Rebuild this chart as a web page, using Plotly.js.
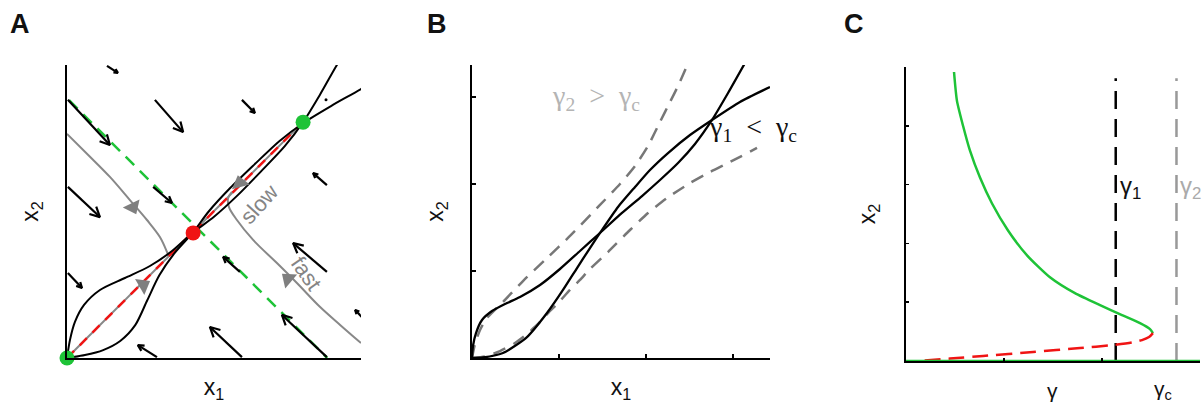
<!DOCTYPE html>
<html>
<head>
<meta charset="utf-8">
<script src="https://cdn.plot.ly/plotly-3.0.1.min.js"></script>
<style>html,body{margin:0;padding:0;background:#fff;}#chart{width:1203px;height:408px;}</style>
</head>
<body>
<div id="chart"></div>
<script>
// ---------- Panel A : phase plane ----------
const A_n1_x = [0, 0.010, 0.027, 0.058, 0.112, 0.197, 0.282, 0.357, 0.428, 0.50, 0.58, 0.66, 0.74, 0.803, 0.86, 0.918, 0.95];
const A_n1_y = [0, 0.061, 0.123, 0.181, 0.232, 0.273, 0.314, 0.365, 0.428, 0.482, 0.555, 0.637, 0.722, 0.805, 0.898, 1.0, 1.05];
const A_n2_x = [0, 0.061, 0.123, 0.181, 0.232, 0.273, 0.314, 0.365, 0.428, 0.482, 0.555, 0.637, 0.722, 0.805, 0.898, 1.0, 1.05];
const A_n2_y = [0, 0.010, 0.027, 0.058, 0.112, 0.197, 0.282, 0.357, 0.428, 0.50, 0.58, 0.66, 0.74, 0.803, 0.86, 0.918, 0.95];
const A_diag_x = [0, 0.803];
const A_diag_y = [0, 0.805];
const A_sep_x = [0.007, 0.885];
const A_sep_y = [0.88, 0.0];
const A_trajL_x = [0, 0.073, 0.146, 0.214, 0.272, 0.316, 0.340, 0.346];
const A_trajL_y = [0.765, 0.692, 0.618, 0.539, 0.471, 0.413, 0.362, 0.345];
const A_trajR_x = [1.0, 0.929, 0.861, 0.782, 0.714, 0.633, 0.578, 0.551, 0.548, 0.561];
const A_trajR_y = [0.051, 0.113, 0.174, 0.256, 0.324, 0.403, 0.471, 0.515, 0.546, 0.567];
const A_tri_x = [0.224, 0.752, 0.259, 0.588];
const A_tri_y = [0.515, 0.270, 0.249, 0.597];
const A_tri_sym = ['triangle-down', 'triangle-left', 'triangle-right', 'triangle-up'];
const A_tri_ang = [-25, 40, -30, -15];
const A_fp_x = [0, 0.429, 0.803];
const A_fp_y = [0, 0.427, 0.805];
const A_fp_col = ['#1ec337', '#f01414', '#1ec337'];
const A_dot_x = [0.881];
const A_dot_y = [0.881];
// quiver arrows: tails (x0,y0) -> heads (x1,y1)
const A_q_x0 = [0.136, 0.299, 0.595, 0.003, 0.003, 0.293, 0.884, 0.884, 1.003, 0.595, 0.306, 0.588, 0.003, 0.884];
const A_q_y0 = [0.997, 0.881, 0.881, 0.881, 0.584, 0.584, 0.590, 0.294, 0.140, 0.003, 0.003, 0.294, 0.290, 0.003];
const A_q_x1 = [0.173, 0.395, 0.639, 0.146, 0.112, 0.357, 0.837, 0.769, 0.980, 0.486, 0.241, 0.531, 0.051, 0.731];
const A_q_y1 = [0.973, 0.771, 0.836, 0.727, 0.481, 0.529, 0.631, 0.392, 0.164, 0.106, 0.044, 0.345, 0.239, 0.147];

// ---------- Panel B : nullclines for two gammas ----------
const B_n1_x = [0, 0.011, 0.046, 0.115, 0.230, 0.379, 0.552, 0.782, 1.011, 1.241, 1.471, 1.724, 1.954, 2.161, 2.368, 2.563, 2.759, 2.943, 3.138];
const B_n1_y = [0, 0.138, 0.287, 0.437, 0.540, 0.621, 0.701, 0.839, 1.023, 1.230, 1.437, 1.667, 1.862, 2.046, 2.241, 2.460, 2.736, 3.046, 3.391];
const B_n2_x = [0, 0.126, 0.356, 0.632, 0.862, 1.046, 1.207, 1.356, 1.471, 1.678, 1.874, 2.046, 2.253, 2.506, 2.759, 3.080, 3.425];
const B_n2_y = [0, 0.006, 0.057, 0.241, 0.517, 0.782, 1.034, 1.264, 1.437, 1.736, 1.966, 2.161, 2.356, 2.563, 2.736, 2.943, 3.115];
const B_d1_x = [0, 0.034, 0.092, 0.172, 0.356, 0.586, 0.851, 1.138, 1.471, 1.701, 1.874, 2.023, 2.161, 2.276, 2.368, 2.460];
const B_d1_y = [0, 0.161, 0.322, 0.460, 0.644, 0.885, 1.138, 1.414, 1.759, 2.000, 2.207, 2.437, 2.713, 2.943, 3.126, 3.333];
const B_d2_x = [0, 0.149, 0.322, 0.494, 0.632, 0.759, 0.874, 0.989, 1.126, 1.241, 1.356, 1.563, 1.816, 2.023, 2.241, 2.506, 2.736, 2.966, 3.276];
const B_d2_y = [0, 0.017, 0.080, 0.172, 0.276, 0.391, 0.517, 0.632, 0.782, 0.897, 1.023, 1.218, 1.471, 1.667, 1.839, 2.011, 2.138, 2.253, 2.414];

// ---------- Panel C : bifurcation diagram ----------
const C_stable_x = [0.490, 0.520, 0.582, 0.653, 0.755, 0.878, 1.041, 1.235, 1.469, 1.724, 1.980, 2.204, 2.388, 2.490, 2.520];
const C_stable_y = [4.915, 4.424, 4.000, 3.576, 3.119, 2.678, 2.220, 1.797, 1.424, 1.153, 0.949, 0.780, 0.644, 0.542, 0.475];
const C_unst_x = [2.520, 2.480, 2.408, 2.306, 2.112, 1.776, 1.296, 0.786, 0.449, 0.122];
const C_unst_y = [0.475, 0.407, 0.356, 0.314, 0.271, 0.220, 0.153, 0.085, 0.042, 0.0];
const C_zero_x = [0, 3];
const C_zero_y = [0, 0];
const C_g1 = 2.14, C_g2 = 2.76, C_vtop = 4.81;

const GREEN = '#1ec337', RED = '#f01414', GRAY = '#888888';

// quiver shafts + barbs (built from the tail/head arrays above, in panel A's data units)
const SX = 294, SY = 293;
const qx = [], qy = [];
A_q_x0.forEach((x0, i) => {
  const y0 = A_q_y0[i], x1 = A_q_x1[i], y1 = A_q_y1[i];
  const dx = (x1 - x0) * SX, dy = (y1 - y0) * SY, L = Math.hypot(dx, dy);
  const ux = -dx / L, uy = -dy / L;
  const b = Math.max(4.5, Math.min(11, 0.3 * L)), a = 27 * Math.PI / 180;
  qx.push(x0, x1, null); qy.push(y0, y1, null);
  [1, -1].forEach((s, k) => {
    const rx = ux * Math.cos(s * a) - uy * Math.sin(s * a);
    const ry = ux * Math.sin(s * a) + uy * Math.cos(s * a);
    if (k === 0) { qx.push(x1 + b * rx / SX); qy.push(y1 + b * ry / SY); qx.push(x1); qy.push(y1); }
    else { qx.push(x1 + b * rx / SX, null); qy.push(y1 + b * ry / SY, null); }
  });
});

const traces = [
  // Panel A
  {x: A_sep_x, y: A_sep_y, xaxis: 'x', yaxis: 'y', mode: 'lines', line: {color: GREEN, width: 2.5, dash: '12px,8px'}},
  {x: A_trajL_x, y: A_trajL_y, xaxis: 'x', yaxis: 'y', mode: 'lines', line: {color: GRAY, width: 2, shape: 'spline'}},
  {x: A_trajR_x, y: A_trajR_y, xaxis: 'x', yaxis: 'y', mode: 'lines', line: {color: GRAY, width: 2, shape: 'spline'}},
  {x: A_diag_x, y: A_diag_y, xaxis: 'x', yaxis: 'y', mode: 'lines', line: {color: GRAY, width: 2}},
  {x: A_diag_x, y: A_diag_y, xaxis: 'x', yaxis: 'y', mode: 'lines', line: {color: RED, width: 2.5, dash: '10px,8px'}},
  {x: A_n1_x, y: A_n1_y, xaxis: 'x', yaxis: 'y', mode: 'lines', line: {color: '#000', width: 2, shape: 'spline', smoothing: 0.8}},
  {x: A_n2_x, y: A_n2_y, xaxis: 'x', yaxis: 'y', mode: 'lines', line: {color: '#000', width: 2, shape: 'spline', smoothing: 0.8}},
  {x: qx, y: qy, xaxis: 'x', yaxis: 'y', mode: 'lines', line: {color: '#000', width: 2.2}, connectgaps: false},
  {x: A_tri_x, y: A_tri_y, xaxis: 'x', yaxis: 'y', mode: 'markers',
   marker: {symbol: A_tri_sym, angle: A_tri_ang, size: 16, color: '#7f7f7f', line: {width: 0}}},
  {x: A_fp_x, y: A_fp_y, xaxis: 'x', yaxis: 'y', mode: 'markers', cliponaxis: false,
   marker: {size: 15, color: A_fp_col, line: {width: 0}}},
  {x: A_dot_x, y: A_dot_y, xaxis: 'x', yaxis: 'y', mode: 'markers', marker: {size: 3, color: '#000'}},
  // Panel B
  {x: B_d1_x, y: B_d1_y, xaxis: 'x2', yaxis: 'y2', mode: 'lines', line: {color: '#777', width: 2.5, dash: '13px,9px', shape: 'spline', smoothing: 0.6}},
  {x: B_d2_x, y: B_d2_y, xaxis: 'x2', yaxis: 'y2', mode: 'lines', line: {color: '#777', width: 2.5, dash: '13px,9px', shape: 'spline', smoothing: 0.6}},
  {x: B_n1_x, y: B_n1_y, xaxis: 'x2', yaxis: 'y2', mode: 'lines', line: {color: '#000', width: 2.3, shape: 'spline', smoothing: 0.6}},
  {x: B_n2_x, y: B_n2_y, xaxis: 'x2', yaxis: 'y2', mode: 'lines', line: {color: '#000', width: 2.3, shape: 'spline', smoothing: 0.6}},
  // Panel C
  {x: [C_g1, C_g1], y: [0, C_vtop], xaxis: 'x3', yaxis: 'y3', mode: 'lines', line: {color: '#000', width: 2.5, dash: '18px,10px'}},
  {x: [C_g2, C_g2], y: [0, C_vtop], xaxis: 'x3', yaxis: 'y3', mode: 'lines', line: {color: '#999', width: 2.5, dash: '18px,10px'}},
  {x: C_stable_x, y: C_stable_y, xaxis: 'x3', yaxis: 'y3', mode: 'lines', line: {color: GREEN, width: 2.5, shape: 'spline', smoothing: 0.6}},
  {x: C_unst_x, y: C_unst_y, xaxis: 'x3', yaxis: 'y3', mode: 'lines', line: {color: RED, width: 2.5, dash: '16px,8px', shape: 'spline', smoothing: 0.6}},
  {x: C_zero_x, y: C_zero_y, xaxis: 'x3', yaxis: 'y3', mode: 'lines', cliponaxis: false, line: {color: GREEN, width: 2.5}}
];

const W = 1203, H = 408;
const base = {showline: true, linecolor: '#000', linewidth: 2, showgrid: false, zeroline: false,
  showticklabels: false, fixedrange: true, automargin: false};
const tfont = {size: 23, color: '#111', family: 'Liberation Sans, Arial, sans-serif'};

const annotations = [];
// panel letters
[['A', 20], ['B', 437], ['C', 854]].forEach(([t, px]) => annotations.push({
  xref: 'paper', yref: 'paper', x: px / W, y: 1 - 24 / H, text: '<b>' + t + '</b>', showarrow: false,
  font: {size: 27, color: '#111', family: 'Liberation Sans, Arial, sans-serif'}, xanchor: 'center', yanchor: 'middle'}));
// panel A labels
annotations.push({xref: 'x', yref: 'y', x: 0.652, y: 0.525, text: 'slow', showarrow: false, textangle: -48,
  font: {size: 22, color: '#858585'}});
annotations.push({xref: 'x', yref: 'y', x: 0.815, y: 0.29, text: 'fast', showarrow: false, textangle: 55,
  font: {size: 22, color: '#858585'}});
// panel B labels
annotations.push({xref: 'x2', yref: 'y2', x: 1.43, y: 2.99, text: 'γ<sub>2</sub>  &gt;  γ<sub>c</sub>', showarrow: false,
  font: {size: 28, color: '#b4b4b4', family: 'Liberation Serif, DejaVu Serif, serif'}});
annotations.push({xref: 'x2', yref: 'y2', x: 2.70, y: 2.64, xanchor: 'left', text: 'γ<sub>1</sub>  &lt;  γ<sub>c</sub>', showarrow: false,
  font: {size: 28, color: '#111', family: 'Liberation Serif, DejaVu Serif, serif'}});
// panel C labels
annotations.push({xref: 'x3', yref: 'y3', x: 2.16, y: 2.95, xanchor: 'left', text: 'γ<sub>1</sub>', showarrow: false,
  font: {size: 24, color: '#111'}});
annotations.push({xref: 'x3', yref: 'y3', x: 2.78, y: 2.95, xanchor: 'left', text: 'γ<sub>2</sub>', showarrow: false,
  font: {size: 24, color: '#aaa'}});
annotations.push({xref: 'x3', yref: 'paper', x: 1.49, y: 1 - 390 / H, yanchor: 'middle', text: 'γ', showarrow: false,
  font: {size: 21, color: '#111'}});
annotations.push({xref: 'x3', yref: 'paper', x: 2.62, y: 1 - 390 / H, yanchor: 'middle', text: 'γ<sub>c</sub>', showarrow: false,
  font: {size: 21, color: '#111'}});

const yDomAB = [(H - 358) / H, (H - 65) / H];
const layout = {
  width: W, height: H, margin: {l: 0, r: 0, t: 0, b: 0},
  paper_bgcolor: '#fff', plot_bgcolor: '#fff', showlegend: false,
  font: {family: 'Liberation Sans, Arial, sans-serif', color: '#111'},
  xaxis: Object.assign({}, base, {domain: [67 / W, 361 / W], range: [0, 1], anchor: 'y', ticks: '',
    title: {text: 'x<sub>1</sub>', font: tfont, standoff: 20}}),
  yaxis: Object.assign({}, base, {domain: yDomAB, range: [0, 1], anchor: 'x', ticks: '',
    title: {text: 'x<sub>2</sub>', font: tfont, standoff: 20}}),
  xaxis2: Object.assign({}, base, {domain: [472 / W, 770 / W], range: [0, 298 / 87], anchor: 'y2',
    ticks: 'inside', tickvals: [1, 2, 3], ticklen: 4, tickwidth: 1.5, tickcolor: '#000',
    title: {text: 'x<sub>1</sub>', font: tfont, standoff: 20}}),
  yaxis2: Object.assign({}, base, {domain: yDomAB, range: [0, 293 / 87], anchor: 'x2',
    ticks: 'inside', tickvals: [1, 2, 3], ticklen: 4, tickwidth: 1.5, tickcolor: '#000',
    title: {text: 'x<sub>2</sub>', font: tfont, standoff: 20}}),
  xaxis3: Object.assign({}, base, {domain: [906 / W, 1200 / W], range: [0, 3], anchor: 'y3',
    ticks: 'inside', tickvals: [1, 2], ticklen: 3, tickwidth: 1.5, tickcolor: '#000'}),
  yaxis3: Object.assign({}, base, {domain: [(H - 361) / H, (H - 67) / H], range: [0, 5], anchor: 'x3', linewidth: 2.5,
    ticks: 'inside', tickvals: [1, 2, 3, 4], ticklen: 3, tickwidth: 1.5, tickcolor: '#000',
    title: {text: 'x<sub>2</sub>', font: tfont, standoff: 22}}),
  annotations: annotations
};

Plotly.newPlot('chart', traces, layout, {displayModeBar: false, staticPlot: true});
</script>
</body>
</html>
